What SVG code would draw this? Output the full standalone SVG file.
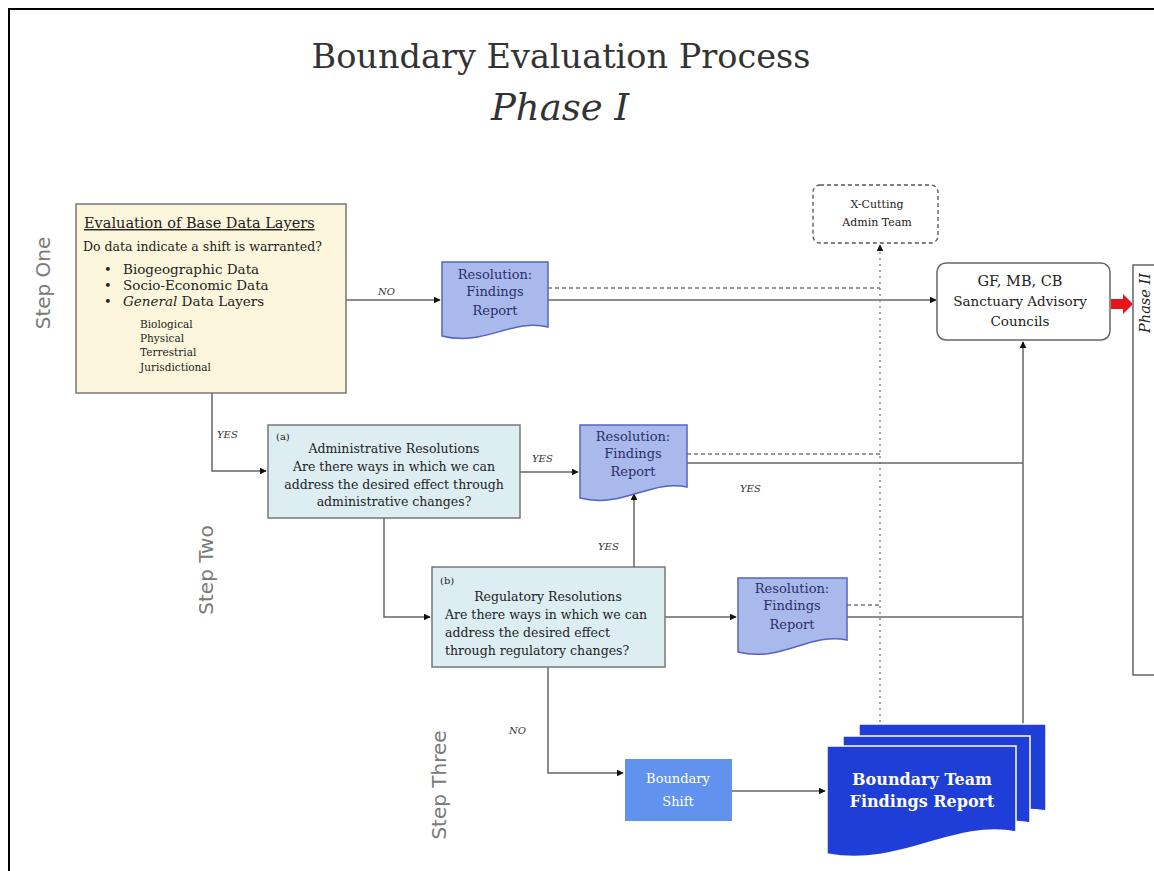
<svg xmlns="http://www.w3.org/2000/svg" width="1154" height="871" viewBox="0 0 1154 871">
<defs>
<marker id="ah" viewBox="0 0 10 10" refX="9" refY="5" markerWidth="7" markerHeight="7" orient="auto" markerUnits="userSpaceOnUse">
<path d="M0,0 L10,5 L0,10 z" fill="#111"/>
</marker>
</defs>
<style>
text{font-family:"DejaVu Serif","Liberation Serif",serif;fill:#222}
.title{font-size:33.5px;fill:#333}
.phase{font-size:37px;font-style:italic;fill:#333}
.step{font-family:"DejaVu Sans","Liberation Sans",sans-serif;font-size:20px;fill:#7a7a7a}
.lbl{font-size:10px;font-style:italic;fill:#333}
.body{font-size:12.5px}
.res{font-size:13px;fill:#2a2f6a}
.resbox{fill:#aab9ec;stroke:#5565bb;stroke-width:1.5}
.qbox{fill:#ddeef2;stroke:#777;stroke-width:1.5}
.line{fill:none;stroke:#666;stroke-width:1.5}
.dash{fill:none;stroke:#777;stroke-width:1.3;stroke-dasharray:4,3}
.dot{fill:none;stroke:#888;stroke-width:1.5;stroke-dasharray:2,4}
.team{fill:#1f3ed8;stroke:#fff;stroke-width:1.5}
</style>
<rect x="0" y="0" width="1154" height="871" fill="#fff"/>
<path d="M9,871 V9 H1154" fill="none" stroke="#000" stroke-width="2"/>

<g id="title">
<text class="title" x="561" y="68" text-anchor="middle">Boundary Evaluation Process</text>
<text class="phase" x="560" y="120" text-anchor="middle">Phase I</text>
</g>

<g id="step-labels">
<text class="step" transform="translate(50,283) rotate(-90)" text-anchor="middle">Step One</text>
<text class="step" transform="translate(213,570) rotate(-90)" text-anchor="middle">Step Two</text>
<text class="step" transform="translate(446,785) rotate(-90)" text-anchor="middle">Step Three</text>
</g>

<g id="connectors">
<path class="line" d="M345,300 H440" marker-end="url(#ah)"/>
<path class="line" d="M548,300 H936" marker-end="url(#ah)"/>
<path class="dash" d="M548,288 H880"/>
<path class="dot" d="M880,722 V245" marker-end="url(#ah)"/>
<path class="line" d="M212,393 V471 H266" marker-end="url(#ah)"/>
<path class="line" d="M520,472 H578" marker-end="url(#ah)"/>
<path class="line" d="M687,463 H1023"/>
<path class="dash" d="M687,454 H880"/>
<path class="line" d="M384,518 V617 H430" marker-end="url(#ah)"/>
<path class="line" d="M634,567 V494" marker-end="url(#ah)"/>
<path class="line" d="M665,617 H736" marker-end="url(#ah)"/>
<path class="line" d="M847,617 H1023"/>
<path class="dash" d="M847,605 H880"/>
<path class="line" d="M548,667 V773 H623" marker-end="url(#ah)"/>
<path class="line" d="M732,791 H825" marker-end="url(#ah)"/>
<path class="line" d="M1023,724 V342" marker-end="url(#ah)"/>
<path d="M1111,299 H1123 V294 L1133,304 L1123,314 V309 H1111 Z" fill="#e8141c"/>
<text class="lbl" x="378" y="295">NO</text>
<text class="lbl" x="217" y="438">YES</text>
<text class="lbl" x="532" y="462">YES</text>
<text class="lbl" x="740" y="492">YES</text>
<text class="lbl" x="598" y="550">YES</text>
<text class="lbl" x="509" y="734">NO</text>
</g>

<g id="step-one">
<rect x="76" y="204" width="270" height="189" fill="#fcf7dc" stroke="#777" stroke-width="1.5"/>
<text x="84" y="228" font-size="14.5" text-decoration="underline">Evaluation of Base Data Layers</text>
<text x="83" y="251" font-size="12.5">Do data indicate a shift is warranted?</text>
<text x="104" y="274" font-size="13">•</text>
<text x="104" y="290" font-size="13">•</text>
<text x="104" y="306" font-size="13">•</text>
<text x="123" y="274" font-size="13.5">Biogeographic Data</text>
<text x="123" y="290" font-size="13.5">Socio-Economic Data</text>
<text x="123" y="306" font-size="13.5"><tspan font-style="italic">General</tspan> Data Layers</text>
<text x="140" y="328" font-size="10.5">Biological</text>
<text x="140" y="342" font-size="10.5">Physical</text>
<text x="140" y="356" font-size="10.5">Terrestrial</text>
<text x="140" y="371" font-size="10.5">Jurisdictional</text>
</g>

<g id="res1">
<path class="resbox" d="M442,262 H548 V327 C512,318 484,347 442,336 Z"/>
<text class="res" x="495" y="279" text-anchor="middle">Resolution:</text>
<text class="res" x="495" y="296" text-anchor="middle">Findings</text>
<text class="res" x="495" y="315" text-anchor="middle">Report</text>
</g>

<g id="xcutting">
<rect x="813" y="185" width="125" height="58" rx="7" fill="#fff" stroke="#555" stroke-width="1.3" stroke-dasharray="4,3"/>
<text x="877" y="208" font-size="11" text-anchor="middle">X-Cutting</text>
<text x="877" y="226" font-size="11" text-anchor="middle">Admin Team</text>
</g>

<g id="council">
<rect x="937" y="263" width="173" height="77" rx="9" fill="#fff" stroke="#666" stroke-width="1.5"/>
<text x="1020" y="286" font-size="14.5" text-anchor="middle">GF, MB, CB</text>
<text x="1020" y="306" font-size="13.5" text-anchor="middle">Sanctuary Advisory</text>
<text x="1020" y="326" font-size="13.5" text-anchor="middle">Councils</text>
</g>

<g id="phase2">
<rect x="1133" y="265" width="40" height="410" fill="#fff" stroke="#666" stroke-width="1.5"/>
<text transform="translate(1150,303) rotate(-90)" font-size="14.5" font-style="italic" text-anchor="middle">Phase II</text>
</g>

<g id="admin">
<rect class="qbox" x="268" y="425" width="252" height="93"/>
<text x="276" y="440" font-size="10">(a)</text>
<text class="body" x="394" y="453" text-anchor="middle">Administrative Resolutions</text>
<text class="body" x="394" y="471" text-anchor="middle">Are there ways in which we can</text>
<text class="body" x="394" y="489" text-anchor="middle">address the desired effect through</text>
<text class="body" x="394" y="506" text-anchor="middle">administrative changes?</text>
</g>

<g id="res2">
<path class="resbox" d="M580,425 H687 V487 C651,479 622,509 580,498 Z"/>
<text class="res" x="633" y="441" text-anchor="middle">Resolution:</text>
<text class="res" x="633" y="458" text-anchor="middle">Findings</text>
<text class="res" x="633" y="476" text-anchor="middle">Report</text>
</g>

<g id="regulatory">
<rect class="qbox" x="432" y="567" width="233" height="100"/>
<text x="440" y="584" font-size="10">(b)</text>
<text class="body" x="548" y="601" text-anchor="middle">Regulatory Resolutions</text>
<text class="body" x="445" y="619">Are there ways in which we can</text>
<text class="body" x="445" y="637">address the desired effect</text>
<text class="body" x="445" y="655">through regulatory changes?</text>
</g>

<g id="res3">
<path class="resbox" d="M738,578 H847 V640 C810,632 781,663 738,652 Z"/>
<text class="res" x="792" y="593" text-anchor="middle">Resolution:</text>
<text class="res" x="792" y="610" text-anchor="middle">Findings</text>
<text class="res" x="792" y="629" text-anchor="middle">Report</text>
</g>

<g id="boundary-shift">
<rect x="625" y="759" width="107" height="62" fill="#6193ee"/>
<text x="678" y="783" font-size="13" text-anchor="middle" style="fill:#fff">Boundary</text>
<text x="678" y="806" font-size="13" text-anchor="middle" style="fill:#fff">Shift</text>
</g>

<g id="team-report">
<path class="team" d="M859,724 H1046 V811 C1000,803 960,826 859,818 Z"/>
<path class="team" d="M843,736 H1030 V823 C980,815 940,840 843,830 Z"/>
<path class="team" d="M827,746 H1016 V832 C952,820 900,868 827,854 Z"/>
<text x="922" y="785" font-size="16" font-weight="bold" text-anchor="middle" style="fill:#fff">Boundary Team</text>
<text x="922" y="807" font-size="16" font-weight="bold" text-anchor="middle" style="fill:#fff">Findings Report</text>
</g>
</svg>
